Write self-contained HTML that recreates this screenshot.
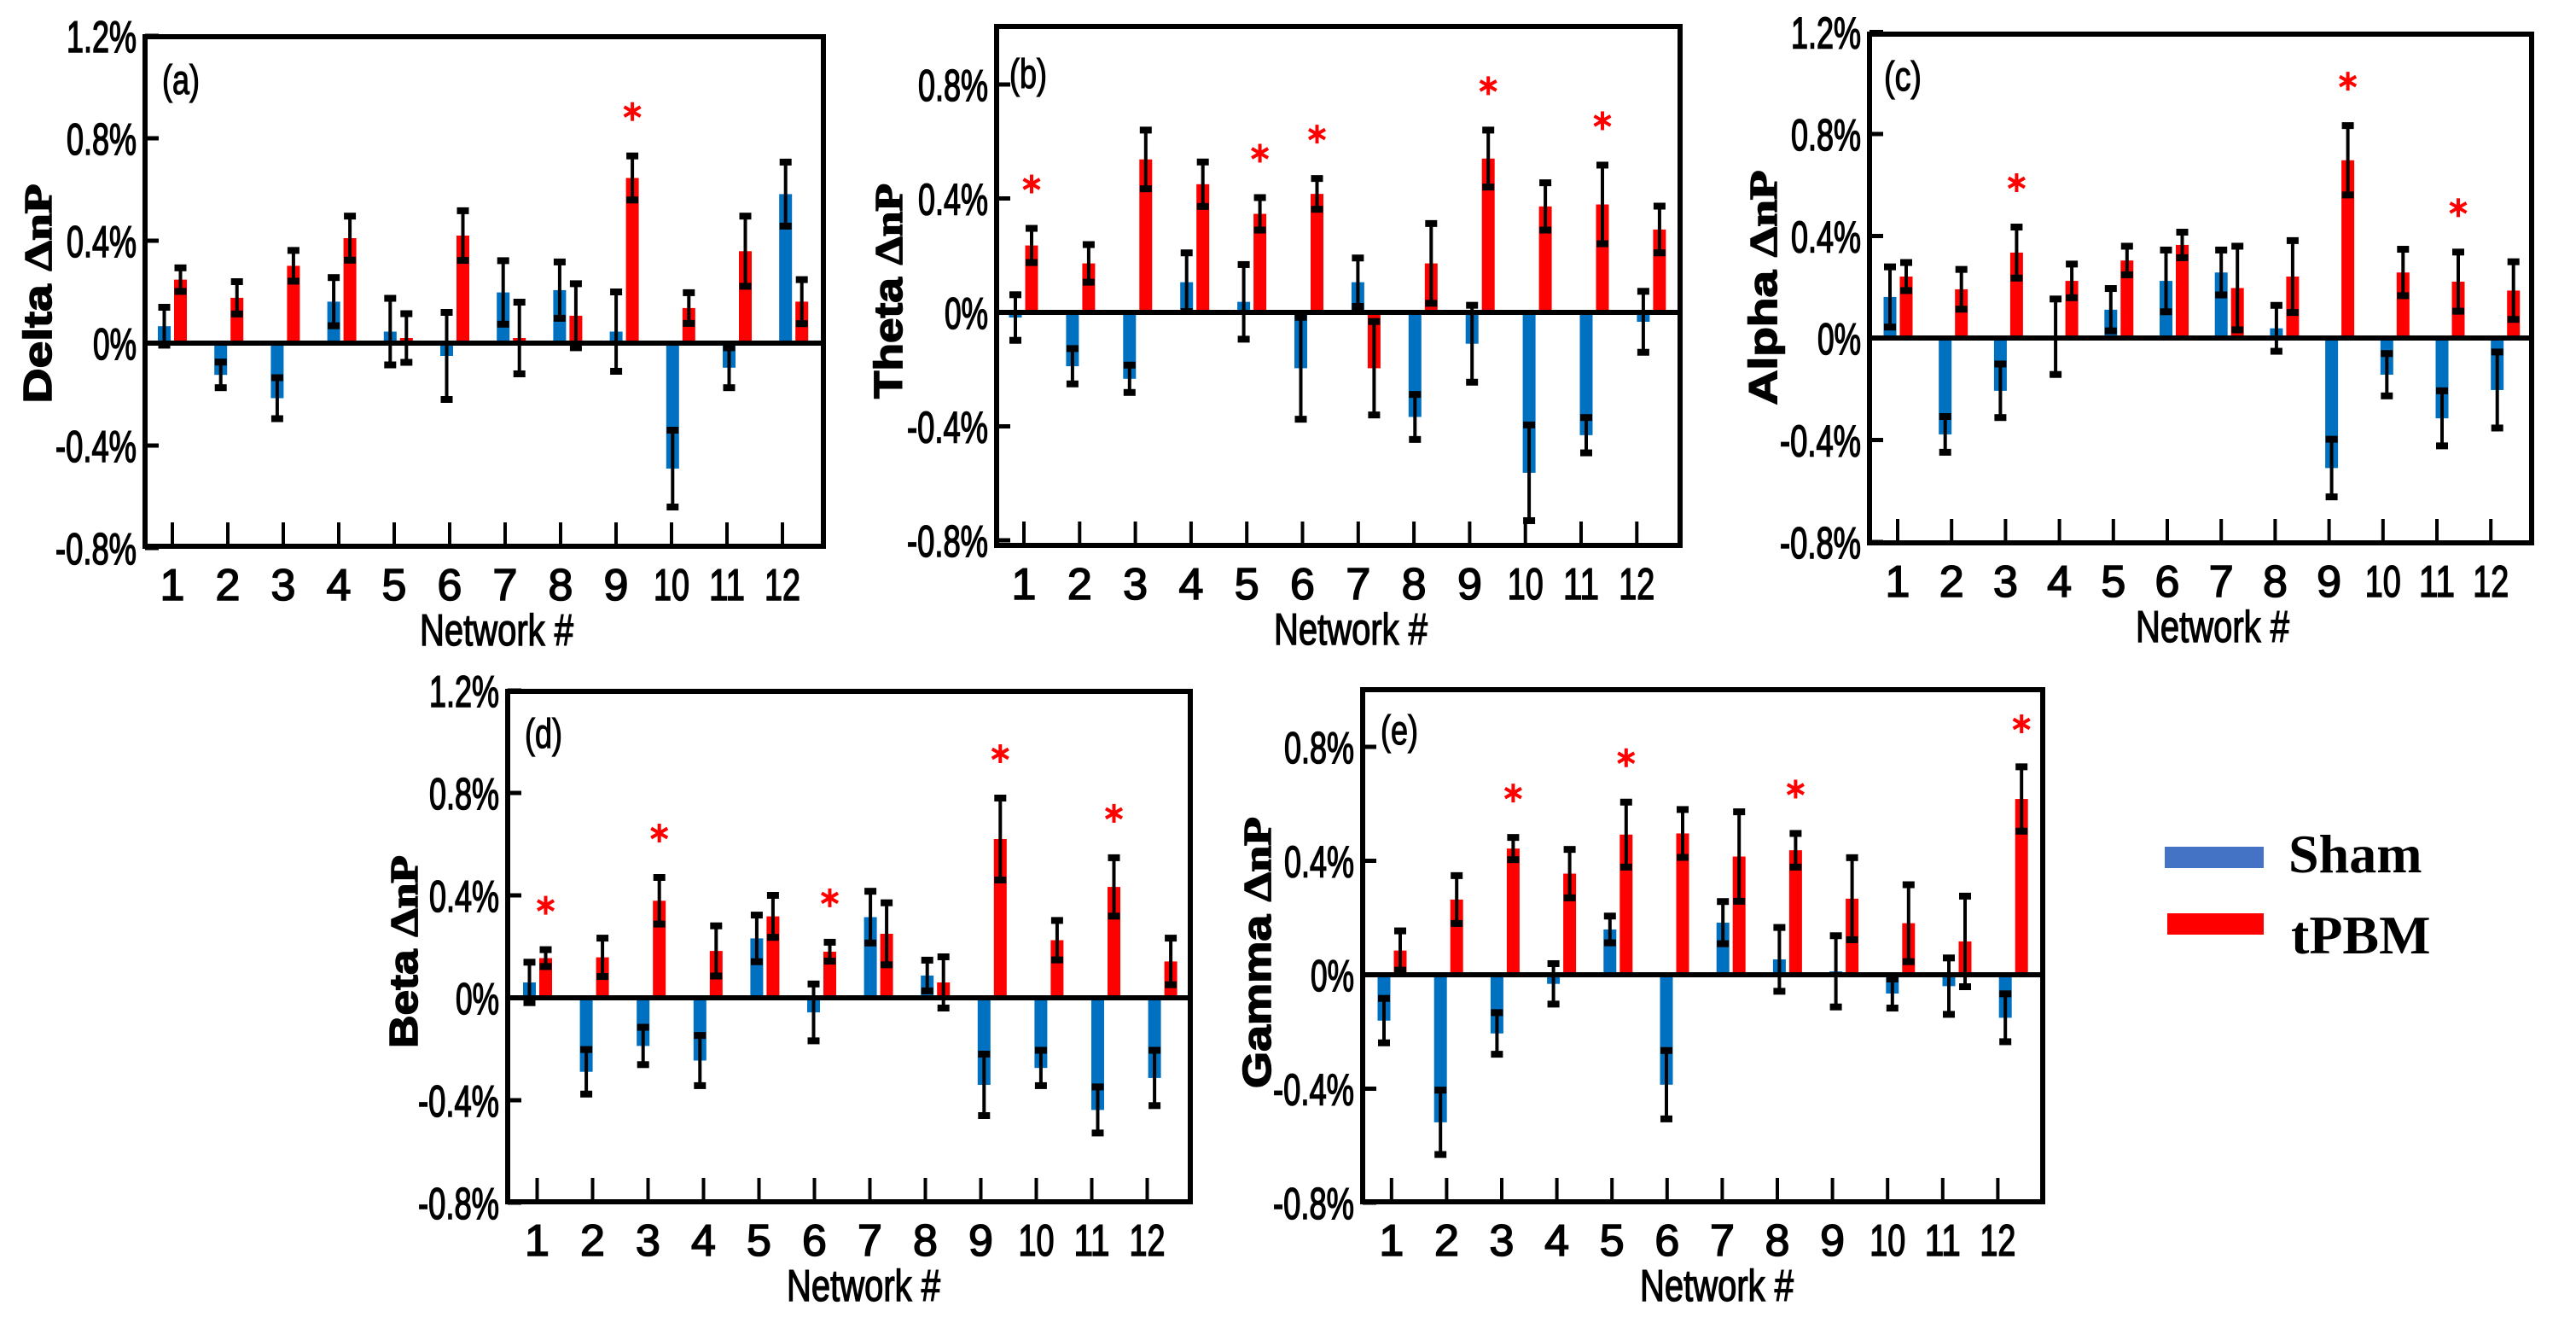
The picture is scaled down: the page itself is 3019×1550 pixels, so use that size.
<!DOCTYPE html>
<html><head><meta charset="utf-8"><style>
html,body{margin:0;padding:0;background:#fff;}
svg{display:block;}
</style></head><body>
<svg id="fig" width="3019" height="1550" viewBox="0 0 3019 1550" xmlns="http://www.w3.org/2000/svg">
<rect width="3019" height="1550" fill="#fff"/>
<g>
  <rect x="2537" y="992" width="116" height="25" fill="#4472C4"/>
  <text x="2682" y="1022" font-family="Liberation Serif, serif" font-weight="bold" font-size="64">Sham</text>
  <rect x="2540" y="1070" width="113" height="25" fill="#FF0000"/>
  <text x="2685" y="1117" font-family="Liberation Serif, serif" font-weight="bold" font-size="64">tPBM</text>
</g>
</svg>
<script>
// ---- data (percent values) ----
const networks = [1,2,3,4,5,6,7,8,9,10,11,12];
const deltaSham    = [0.066,-0.124,-0.215,0.162,0.045,-0.05,0.198,0.207,0.045,-0.49,-0.096,0.582];
const deltaShamErr = [0.074,0.05,0.08,0.094,0.13,0.17,0.124,0.11,0.155,0.15,0.078,0.125];
const deltaTpbm    = [0.248,0.177,0.302,0.41,0.02,0.42,0.02,0.107,0.645,0.137,0.359,0.162];
const deltaTpbmErr = [0.046,0.063,0.06,0.086,0.095,0.097,0.14,0.125,0.086,0.06,0.137,0.086];
const deltaStars   = [9];
const thetaSham    = [-0.018,-0.189,-0.233,0.106,0.037,-0.196,0.106,-0.367,-0.11,-0.563,-0.431,-0.033];
const thetaShamErr = [0.08,0.062,0.048,0.103,0.131,0.179,0.085,0.079,0.135,0.168,0.062,0.107];
const thetaTpbm    = [0.235,0.172,0.537,0.45,0.346,0.416,-0.196,0.172,0.54,0.372,0.379,0.291];
const thetaTpbmErr = [0.06,0.066,0.103,0.078,0.057,0.054,0.164,0.14,0.1,0.083,0.138,0.082];
const thetaStars   = [1,5,6,9,11];
const alphaSham    = [0.161,-0.378,-0.207,0.005,0.111,0.224,0.257,0.038,-0.51,-0.144,-0.315,-0.204];
const alphaShamErr = [0.118,0.07,0.105,0.148,0.083,0.121,0.088,0.09,0.113,0.083,0.108,0.149];
const alphaTpbm    = [0.241,0.191,0.335,0.224,0.304,0.365,0.196,0.241,0.697,0.257,0.221,0.186];
const alphaTpbmErr = [0.055,0.078,0.1,0.066,0.056,0.05,0.164,0.141,0.136,0.091,0.116,0.113];
const alphaStars   = [3,9,11];
const betaSham     = [0.06,-0.289,-0.188,-0.245,0.232,-0.057,0.315,0.087,-0.34,-0.274,-0.438,-0.313];
const betaShamErr  = [0.079,0.087,0.073,0.098,0.091,0.111,0.101,0.06,0.12,0.069,0.09,0.108];
const betaTpbm     = [0.155,0.158,0.379,0.183,0.318,0.18,0.25,0.06,0.62,0.225,0.433,0.142];
const betaTpbmErr  = [0.033,0.075,0.091,0.098,0.082,0.037,0.121,0.1,0.16,0.077,0.114,0.091];
const betaStars    = [1,3,6,9,11];
const gammaSham    = [-0.161,-0.518,-0.206,-0.032,0.159,-0.386,0.183,0.054,0.012,-0.066,-0.04,-0.151];
const gammaShamErr = [0.078,0.113,0.073,0.071,0.047,0.12,0.074,0.112,0.125,0.051,0.099,0.084];
const gammaTpbm    = [0.085,0.264,0.443,0.355,0.492,0.496,0.415,0.437,0.267,0.181,0.117,0.617];
const gammaTpbmErr = [0.069,0.084,0.039,0.085,0.114,0.084,0.157,0.059,0.144,0.135,0.159,0.113];
const gammaStars   = [3,5,8,12];
const ticksA = [1.2,0.8,0.4,0,-0.4,-0.8];
const ticksB = [0.8,0.4,0,-0.4,-0.8];
const tickLabelsA = ['1.2%','0.8%','0.4%','0%','-0.4%','-0.8%'];
const tickLabelsB = ['0.8%','0.4%','0%','-0.4%','-0.8%'];

const NS='http://www.w3.org/2000/svg';
const svg=document.getElementById('fig');
function mk(tag,attrs,parent){const e=document.createElementNS(NS,tag);for(const k in attrs)e.setAttribute(k,attrs[k]);(parent||svg).appendChild(e);return e;}

const panels=[
 {key:'delta',label:'(a)',title:'Delta',sham:deltaSham,se:deltaShamErr,tp:deltaTpbm,te:deltaTpbmErr,stars:deltaStars,ticks:ticksA,tl:tickLabelsA,
  L:170,R:965,T:43,B:640,zero:402,s:120,tx0:202,tstep:65.0,bx0:192.5,bstep:66.2,ylx:45,yly:344,yll:257,lx:190,ly:110,nx:582},
 {key:'theta',label:'(b)',title:'Theta',sham:thetaSham,se:thetaShamErr,tp:thetaTpbm,te:thetaTpbmErr,stars:thetaStars,ticks:ticksB,tl:tickLabelsB,
  L:1168,R:1969,T:31,B:639,zero:366,s:133.5,tx0:1200,tstep:65.3,bx0:1190,bstep:66.9,ylx:1042,yly:341,yll:252,lx:1183,ly:103,nx:1583},
 {key:'alpha',label:'(c)',title:'Alpha',sham:alphaSham,se:alphaShamErr,tp:alphaTpbm,te:alphaTpbmErr,stars:alphaStars,ticks:ticksA,tl:tickLabelsA,
  L:2191,R:2967,T:40,B:636,zero:396,s:119.5,tx0:2224,tstep:63.2,bx0:2215,bstep:64.7,ylx:2067,yly:337,yll:275,lx:2208,ly:106,nx:2593},
 {key:'beta',label:'(d)',title:'Beta',sham:betaSham,se:betaShamErr,tp:betaTpbm,te:betaTpbmErr,stars:betaStars,ticks:ticksA,tl:tickLabelsA,
  L:595,R:1395,T:810,B:1408,zero:1169,s:120,tx0:629.5,tstep:65.0,bx0:620.5,bstep:66.6,ylx:474,yly:1115,yll:226,lx:615,ly:876,nx:1012},
 {key:'gamma',label:'(e)',title:'Gamma',sham:gammaSham,se:gammaShamErr,tp:gammaTpbm,te:gammaTpbmErr,stars:gammaStars,ticks:ticksB,tl:tickLabelsB,
  L:1597,R:2394,T:808,B:1408,zero:1142,s:133.5,tx0:1630.8,tstep:64.6,bx0:1622,bstep:66.2,ylx:1474,yly:1116,yll:318,lx:1618,ly:872,nx:2012}
];

function labelLen(t){let w=0;for(const c of t){w+= c==='%'?30:c==='.'?10:c==='-'?13:21;}return w;}

panels.forEach(p=>{
  const g=mk('g',{});
  
  
  const y=v=>p.zero - v/0.4*p.s;
  const bx=i=>p.bx0+p.bstep*i;
  const tx=i=>p.tx0+p.tstep*i;
  const off=19, bw=15;
  networks.forEach((n,i)=>{
    [[p.sham[i],p.se[i],bx(i),'#0070C0','sham'],[p.tp[i],p.te[i],bx(i)+off,'#FF0000','tpbm']].forEach(([v,e,cx,col,nm])=>{
      const r=mk('rect',{x:cx-bw/2,y:Math.min(y(v),p.zero),width:bw,height:Math.abs(y(v)-p.zero),fill:col},g);
      
      
      const eg=mk('g',{fill:'#000'},g);
      
      
      const y1=y(v+e), y2=y(v-e);
      mk('rect',{x:cx-2,y:y1,width:4,height:y2-y1},eg);
      mk('rect',{x:cx-7,y:y1-4,width:14,height:8},eg);
      mk('rect',{x:cx-7,y:y2-4,width:14,height:8},eg);
    });
  });
  p.stars.forEach(n=>{
    const i=n-1, cx=bx(i)+off;
    let cy=y(p.tp[i]+p.te[i])-52;
    if(cy<p.T+40) cy=p.T+40;
    const sg=mk('g',{stroke:'#FF0000','stroke-width':4,'stroke-linecap':'butt'},g);
    
    
    for(let a=0;a<3;a++){const ang=Math.PI/2+a*Math.PI/3;const dx=Math.cos(ang)*11,dy=Math.sin(ang)*11;
      mk('line',{x1:cx-dx,y1:cy-dy,x2:cx+dx,y2:cy+dy},sg);}
  });
  const z=mk('line',{x1:p.L,x2:p.R,y1:p.zero,y2:p.zero,stroke:'#000','stroke-width':6},g);
  
  
  const f=mk('rect',{x:p.L,y:p.T,width:p.R-p.L,height:p.B-p.T,fill:'none',stroke:'#000','stroke-width':6},g);
  
  
  p.ticks.forEach((t,k)=>{
    const yy=y(t);
    mk('rect',{x:p.L,y:yy-2.5,width:16,height:5,fill:'#000'},g);
    const tt=mk('text',{x:p.L-10,y:yy+19,'text-anchor':'end','font-family':'Liberation Sans, sans-serif','font-size':52,stroke:'#000','stroke-width':1.6,textLength:labelLen(p.tl[k]),lengthAdjust:'spacingAndGlyphs'},g);
    tt.textContent=p.tl[k];
    
    
  });
  networks.forEach((n,i)=>{
    const xx=tx(i);
    mk('rect',{x:xx-2,y:p.B-28,width:4,height:28,fill:'#000'},g);
    const s=String(n);
    const a={x:xx,y:p.B+63,'text-anchor':'middle','font-family':'Liberation Sans, sans-serif','font-size':52,stroke:'#000','stroke-width':1.6};
    if(s.length>1){a.textLength=42;a.lengthAdjust='spacingAndGlyphs';}
    const tt=mk('text',a,g);
    tt.textContent=s;
    
    
  });
  const xt=mk('text',{x:p.nx,y:p.B+116,'text-anchor':'middle','font-family':'Liberation Sans, sans-serif','font-size':52,stroke:'#000','stroke-width':1.4,textLength:180,lengthAdjust:'spacingAndGlyphs'},g);
  xt.textContent='Network #';
  
  
  const yt=mk('text',{x:0,y:0,'text-anchor':'middle','font-size':46,'font-weight':'bold',stroke:'#000','stroke-width':1.5,transform:`translate(${p.ylx+15},${p.yly}) rotate(-90)`,textLength:p.yll,lengthAdjust:'spacingAndGlyphs'},g);
  const s1=mk('tspan',{'font-family':'Liberation Sans, sans-serif'},yt); s1.textContent=p.title+' ';
  const s2=mk('tspan',{'font-family':'Liberation Serif, serif'},yt); s2.textContent='ΔnP';
  
  
  const pl=mk('text',{x:p.lx,y:p.ly,'font-family':'Liberation Sans, sans-serif','font-size':48,stroke:'#000','stroke-width':1.2,textLength:44,lengthAdjust:'spacingAndGlyphs'},g);
  pl.textContent=p.label;
  
  
});
</script>
</body></html>
